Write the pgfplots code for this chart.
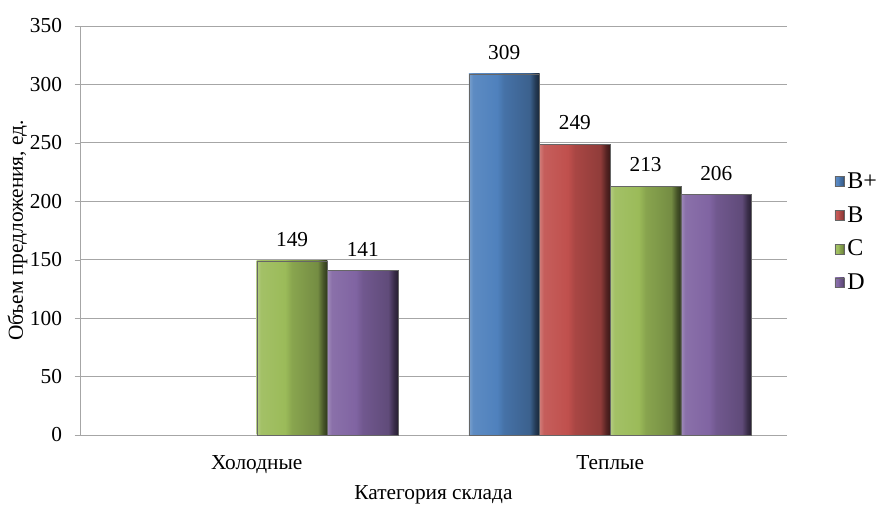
\documentclass[border=0pt]{standalone}
\usepackage{pgfplots}
\pgfplotsset{compat=1.18}
\usepackage{fontspec}
\setmainfont{Liberation Serif}
\definecolor{cBp}{HTML}{4F81BD}
\definecolor{cB}{HTML}{C0504D}
\definecolor{cC}{HTML}{9BBB59}
\definecolor{cD}{HTML}{8064A2}
\definecolor{gridc}{HTML}{A6A6A6}
\newcommand{\bevel}[2]{%
\pgfdeclarehorizontalshading{#1}{100bp}{color(0bp)=(#2!75!white); color(25bp)=(#2!75!white);
 color(28bp)=(#2!92!white); color(45bp)=(#2); color(50bp)=(#2!88!black); color(68bp)=(#2!75!black);
 color(72bp)=(#2!45!black); color(75bp)=(#2!30!black); color(100bp)=(#2!30!black)}}
\bevel{bevBp}{cBp}
\bevel{bevB}{cB}
\bevel{bevC}{cC}
\bevel{bevD}{cD}
\begin{document}
\begin{tikzpicture}
\begin{axis}[
  scale only axis,
  width=530.25pt, height=306.75pt,
  ybar, bar width=0.2,
  xmin=-0.5, xmax=1.5,
  ymin=0, ymax=350,
  ytick={0,50,...,350},
  xtick={0,1},
  xticklabels={Холодные, Теплые},
  extra x ticks={-0.5,0.5,1.5},
  extra x tick labels={},
  extra x tick style={major tick length=5pt, tick style={gridc}},
  x tick style={draw=none},
  y tick style={gridc},
  tick align=outside,
  major tick length=4pt,
  ymajorgrids, grid style={gridc, line width=0.6pt},
  axis line style={gridc, line width=0.6pt},
  axis x line*=bottom, axis y line*=left,
  ylabel={Объем предложения, ед.},
  xlabel={Категория склада},
  tick label style={font=\fontsize{16}{18}\selectfont},
  yticklabel style={xshift=-6pt},
  xticklabel style={yshift=-8pt},
  label style={font=\fontsize{16}{18}\selectfont},
  ylabel style={yshift=-5pt},
  xlabel style={yshift=7pt},
  /pgf/number format/assume math mode=true,
  nodes near coords,
  every node near coord/.append style={font=\fontsize{16}{18}\selectfont, black, yshift=7pt},
  legend style={at={(1.067,0.496)}, anchor=west, draw=none, fill=none,
    font=\fontsize{18}{20}\selectfont, row sep=8pt, inner sep=0pt},
  legend cell align=left,
  legend image code/.code={\fill[#1] (0pt,-3.6pt) rectangle (7.2pt,3.6pt);},
  clip=false,
]
\addplot[draw=black!60, line width=0.3pt, shade, shading=bevBp, bar shift=-0.3] coordinates {(1,309)};
\addplot[draw=black!60, line width=0.3pt, shade, shading=bevB, bar shift=-0.1] coordinates {(1,249)};
\addplot[draw=black!60, line width=0.3pt, shade, shading=bevC, bar shift=0.1] coordinates {(1,213)};
\addplot[draw=black!60, line width=0.3pt, shade, shading=bevD, bar shift=0.3] coordinates {(1,206)};
\addplot[draw=black!60, line width=0.3pt, shade, shading=bevC, bar shift=0.1, forget plot] coordinates {(0,149)};
\addplot[draw=black!60, line width=0.3pt, shade, shading=bevD, bar shift=0.3, forget plot] coordinates {(0,141)};
\legend{B+, B, C, D}
\coordinate (bl) at (rel axis cs:0,0);
\coordinate (tr) at (rel axis cs:1,1);
\end{axis}
\pgfresetboundingbox
\path (bl) ++(-60pt,-55.5pt) coordinate (BL);
\path (tr) ++(74.25pt,19.5pt) coordinate (TR);
\path[use as bounding box] (BL) rectangle (TR);
\end{tikzpicture}
\end{document}
